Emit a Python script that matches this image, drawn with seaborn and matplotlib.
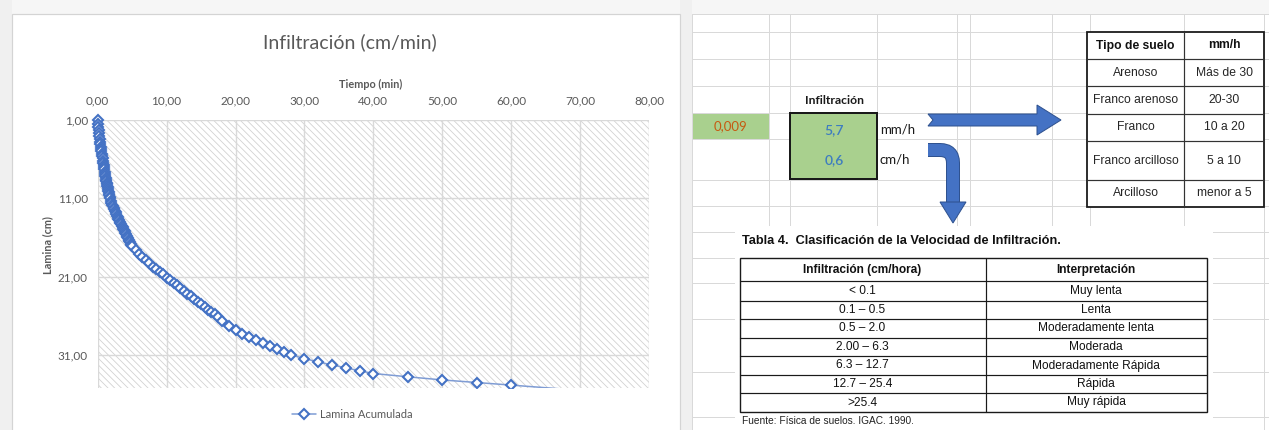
import matplotlib
matplotlib.use("Agg")
import matplotlib.pyplot as plt
import matplotlib.patheffects as pe
from matplotlib import font_manager as fm
from matplotlib.patches import Rectangle, Polygon
from matplotlib.lines import Line2D
from matplotlib.path import Path
from matplotlib.patches import PathPatch
from matplotlib.ticker import FixedLocator, FuncFormatter
from matplotlib.transforms import Bbox, TransformedBbox
import pandas as pd
import seaborn as sns

# ---------------- data ----------------
# cumulative infiltration test: elapsed time (min) and accumulated depth (cm)
tiempo_min = [
    0.00, 0.05, 0.10, 0.15, 0.20, 0.25, 0.30, 0.35, 0.40, 0.45,
    0.50, 0.55, 0.60, 0.65, 0.70, 0.75, 0.80, 0.85, 0.90, 0.95,
    1.00, 1.05, 1.10, 1.15, 1.20, 1.25, 1.30, 1.35, 1.40, 1.45,
    1.50, 1.55, 1.60, 1.65, 1.70, 1.75, 1.80, 1.9,
    2.0, 2.1, 2.2, 2.3, 2.4, 2.5, 2.6, 2.7, 2.8, 2.9,
    3.0, 3.1, 3.2, 3.3, 3.4, 3.5, 3.6, 3.7, 3.8, 3.9,
    4.0, 4.1, 4.2, 4.3, 4.4, 4.5, 4.6, 4.7, 4.8, 4.9,
    5.0, 5.5, 6.0, 6.5, 7.0, 7.5, 8.0, 8.5, 9.0, 9.5,
    10.0, 10.5, 11.0, 11.5, 12.0, 12.5, 13.0, 13.5, 14.0, 14.5,
    15.0, 15.5, 16.0, 16.5, 17.0, 17.5, 18.0, 19.0, 20.0, 21.0,
    22.0, 23.0, 24.0, 25.0, 26.0, 27.0, 28.0, 30.0, 32.0, 34.0,
    36.0, 38.0, 40.0, 45.0, 50.0, 55.0, 60.0, 70.0,
]
lamina_cm = [
    1.0, 1.5, 1.9, 2.3, 2.7, 3.05, 3.4, 3.75, 4.1, 4.4,
    4.7, 5.0, 5.3, 5.6, 5.9, 6.2, 6.5, 6.75, 7.0, 7.3,
    7.6, 7.85, 8.1, 8.35, 8.6, 8.8, 9.0, 9.2, 9.4, 9.6,
    9.8, 10.0, 10.2, 10.4, 10.6, 10.8, 11.0, 11.3,
    11.6, 11.8, 12.0, 12.2, 12.4, 12.6, 12.8, 13.0, 13.2, 13.4,
    13.6, 13.8, 14.0, 14.2, 14.3, 14.5, 14.7, 14.9, 15.0, 15.2,
    15.4, 15.6, 15.8, 15.9, 16.1, 16.3, 16.5, 16.6, 16.8, 16.9,
    17.1, 17.6, 18.1, 18.5, 18.9, 19.3, 19.7, 20.0, 20.4, 20.7,
    21.1, 21.4, 21.8, 22.1, 22.5, 22.8, 23.2, 23.5, 23.8, 24.2,
    24.5, 24.8, 25.2, 25.5, 25.8, 26.2, 26.6, 27.35, 27.8, 28.25,
    28.7, 29.1, 29.5, 29.9, 30.25, 30.6, 30.95, 31.45, 31.87, 32.25,
    32.63, 33.0, 33.35, 33.77, 34.17, 34.5, 34.83, 35.5,
]
serie_nombre = "Lamina Acumulada"

x_ticks = [0, 10, 20, 30, 40, 50, 60, 70, 80]
y_ticks = [1, 11, 21, 31]
y_fondo = 35.2  # lower edge of the plot area

# worksheet values
relacion = "0,009"
infil_mm_h = 5.7
infil_cm_h = 0.6

suelo_tipo = ["Arenoso", "Franco arenoso", "Franco", "Franco arcilloso", "Arcilloso"]
suelo_mm_h = ["Más de 30", "20-30", "10 a 20", "5 a 10", "menor a 5"]

clase_rango = ["< 0.1", "0.1 – 0.5", "0.5 – 2.0", "2.00 – 6.3",
               "6.3 – 12.7", "12.7 – 25.4", ">25.4"]
clase_nombre = ["Muy lenta", "Lenta", "Moderadamente lenta", "Moderada",
                "Moderadamente Rápida", "Rápida", "Muy rápida"]

# ---------------- style ----------------
sns.set_theme(style="white")
plt.rcParams["font.family"] = ["Lato", "DejaVu Sans"]
plt.rcParams["hatch.linewidth"] = 0.6

_names = {f.name for f in fm.fontManager.ttflist}
NARROW = "Liberation Sans Narrow" if "Liberation Sans Narrow" in _names else "Liberation Sans"
GRAY_TXT = "#595959"
BLUE = "#4472C4"
GREEN = "#a9d08e"
TBL_FS = 8.7

W, H = 1269, 430
fig = plt.figure(figsize=(W / 100, H / 100), dpi=100, facecolor="white")

# pixel-space canvas for the worksheet and panel decorations
bg = fig.add_axes([0, 0, 1, 1], zorder=0)
bg.set_xlim(0, W)
bg.set_ylim(H, 0)
bg.axis("off")

px = 0.72  # points per pixel

# left panel frame
bg.add_patch(Rectangle((0, 0), W, 14, facecolor="#f6f6f6", edgecolor="none"))
bg.add_patch(Rectangle((0, 0), 12, H, facecolor="#f0f0f0", edgecolor="none"))
bg.add_patch(Rectangle((680, 0), 12, H, facecolor="#f0f0f0", edgecolor="none"))
bg.add_patch(Rectangle((12, 14), 668, H, facecolor="white", edgecolor="#d4d4d4",
                       linewidth=1.2 * px))

# worksheet grid
col_x = [692, 769, 790, 877, 957, 970, 1052, 1090, 1184, 1264]
row_y = [14, 32, 59, 86, 113, 139, 180, 206, 232, 258, 283, 319, 372, 417]
for cx in col_x:
    bg.add_line(Line2D([cx, cx], [14, H], color="#d9d9d9", lw=1.0 * px))
for ry in row_y:
    bg.add_line(Line2D([692, W], [ry, ry], color="#d9d9d9", lw=1.0 * px))

# green cells
bg.add_patch(Rectangle((692, 113), 77, 26, facecolor=GREEN, edgecolor="none"))
bg.text(730, 126.5, relacion, ha="center", va="center", color="#c55a11", fontsize=9.5)
bg.add_patch(Rectangle((790, 113), 87, 66, facecolor=GREEN, edgecolor="#1a1a1a",
                       linewidth=2.0 * px, zorder=3))
bg.text(834, 101, "Infiltración", ha="center", va="center", fontsize=8.7,
        fontweight="bold", color="#1a1a1a")
fmt_dec = lambda v: f"{v:.1f}".replace(".", ",")
bg.text(834, 130, fmt_dec(infil_mm_h), ha="center", va="center", fontsize=10,
        fontweight="semibold", color="#3d7cc0", zorder=4)
bg.text(834, 160, fmt_dec(infil_cm_h), ha="center", va="center", fontsize=10,
        fontweight="semibold", color="#3d7cc0", zorder=4)
bg.text(880, 130, "mm/h", ha="left", va="center", fontsize=9.5, color="#1a1a1a")
bg.text(880, 160, "cm/h", ha="left", va="center", fontsize=9.5, color="#1a1a1a")

# arrows
AR_EDGE = "#2f528f"
AR_FILL = "#4472C4"
shaft_w = 12
ay = 120
bg.add_patch(Polygon([[928, ay - shaft_w / 2], [1037, ay - shaft_w / 2],
                      [1037, ay - 15], [1061, ay], [1037, ay + 15],
                      [1037, ay + shaft_w / 2], [928, ay + shaft_w / 2],
                      [933, ay]],
                     closed=True, facecolor=AR_FILL, edgecolor=AR_EDGE,
                     linewidth=1.0 * px, zorder=3))
bend = Path([(928, 150), (940, 150), (953, 150), (953, 163), (953, 202)],
            [Path.MOVETO, Path.LINETO, Path.CURVE3, Path.CURVE3, Path.LINETO])
bg.add_patch(PathPatch(bend, facecolor="none", edgecolor=AR_FILL,
                       linewidth=shaft_w * px, capstyle="butt", zorder=3,
                       path_effects=[pe.Stroke(linewidth=(shaft_w + 2) * px,
                                               foreground=AR_EDGE),
                                     pe.Normal()]))
bg.add_patch(Polygon([[940, 202], [966, 202], [953, 223]], closed=True,
                     facecolor=AR_FILL, edgecolor=AR_EDGE, linewidth=1.0 * px,
                     zorder=3))

# soil type table (top right)
t_cols = [1087, 1184, 1264]
t_rows = [32, 59, 86, 114, 141, 180, 207]
bg.add_patch(Rectangle((t_cols[0], t_rows[0]), t_cols[-1] - t_cols[0],
                       t_rows[-1] - t_rows[0], facecolor="white",
                       edgecolor="#1a1a1a", linewidth=1.8 * px, zorder=3))
for ry in t_rows[1:-1]:
    bg.add_line(Line2D([t_cols[0], t_cols[-1]], [ry, ry], color="#333333",
                       lw=1.2 * px, zorder=4))
bg.add_line(Line2D([t_cols[1], t_cols[1]], [t_rows[0], t_rows[-1]],
                   color="#333333", lw=1.2 * px, zorder=4))
xc1 = (t_cols[0] + t_cols[1]) / 2
xc2 = (t_cols[1] + t_cols[2]) / 2
bg.text(xc1, (t_rows[0] + t_rows[1]) / 2, "Tipo de suelo", ha="center",
        va="center", fontsize=TBL_FS, fontweight="bold", family=NARROW,
        color="#111111", zorder=5)
bg.text(xc2, (t_rows[0] + t_rows[1]) / 2, "mm/h", ha="center", va="center",
        fontsize=TBL_FS, fontweight="bold", family=NARROW, color="#111111", zorder=5)
for i, (a, b) in enumerate(zip(suelo_tipo, suelo_mm_h)):
    yc = (t_rows[i + 1] + t_rows[i + 2]) / 2
    bg.text(xc1, yc, a, ha="center", va="center", fontsize=TBL_FS, family=NARROW,
            color="#262626", zorder=5)
    bg.text(xc2, yc, b, ha="center", va="center", fontsize=TBL_FS, family=NARROW,
            color="#262626", zorder=5)

# classification table (bottom right)
bg.add_patch(Rectangle((735, 226), 478, H - 226, facecolor="white",
                       edgecolor="none", zorder=2))
bg.text(742, 241.5, "Tabla 4.  Clasificación de la Velocidad de Infiltración.",
        ha="left", va="center", fontsize=9.2, fontweight="bold", family=NARROW,
        color="#111111", zorder=5)
c_cols = [739.5, 985.5, 1207]
c_rows = [258, 281, 301, 319, 337.5, 356, 375, 393, 412]
bg.add_patch(Rectangle((c_cols[0], c_rows[0]), c_cols[-1] - c_cols[0],
                       c_rows[-1] - c_rows[0], facecolor="white",
                       edgecolor="#1a1a1a", linewidth=1.4 * px, zorder=3))
for ry in c_rows[1:-1]:
    bg.add_line(Line2D([c_cols[0], c_cols[-1]], [ry, ry], color="#1a1a1a",
                       lw=1.2 * px, zorder=4))
bg.add_line(Line2D([c_cols[1], c_cols[1]], [c_rows[0], c_rows[-1]],
                   color="#1a1a1a", lw=1.2 * px, zorder=4))
cc1 = (c_cols[0] + c_cols[1]) / 2
cc2 = (c_cols[1] + c_cols[2]) / 2
bg.text(cc1, (c_rows[0] + c_rows[1]) / 2, "Infiltración (cm/hora)", ha="center",
        va="center", fontsize=8.6, fontweight="bold", family=NARROW,
        color="#111111", zorder=5)
bg.text(cc2, (c_rows[0] + c_rows[1]) / 2, "Interpretación", ha="center",
        va="center", fontsize=8.6, fontweight="bold", family=NARROW,
        color="#111111", zorder=5)
for i, (a, b) in enumerate(zip(clase_rango, clase_nombre)):
    yc = (c_rows[i + 1] + c_rows[i + 2]) / 2
    bg.text(cc1, yc, a, ha="center", va="center", fontsize=8.6, family=NARROW,
            color="#111111", zorder=5)
    bg.text(cc2, yc, b, ha="center", va="center", fontsize=8.6, family=NARROW,
            color="#111111", zorder=5)
bg.text(742, 421.5, "Fuente: Física de suelos. IGAC. 1990.", ha="left",
        va="center", fontsize=7.3, family=NARROW, color="#222222", zorder=5)

# ---------------- infiltration chart ----------------
bg.text(350, 42, "Infiltración (cm/min)", ha="center", va="center",
        fontsize=14, color=GRAY_TXT)

L, R, T, B = 97.7, 649, 120, 388
ax = fig.add_axes([L / W, (H - B) / H, (R - L) / W, (B - T) / H], zorder=2)
ax.set_facecolor("white")
ax.add_patch(Rectangle((0, 0), 1, 1, transform=ax.transAxes, fill=False,
                       hatch="\\\\\\\\\\", edgecolor="#d2d2d2", linewidth=0,
                       zorder=0))

df = pd.DataFrame({"Tiempo (min)": tiempo_min, "Lamina (cm)": lamina_cm})
# markers only for readings that fall inside the plot area
visibles = [i for i, v in enumerate(lamina_cm) if v <= y_fondo]
sns.lineplot(data=df, x="Tiempo (min)", y="Lamina (cm)", ax=ax,
             color="#7f9cd4", linewidth=1.1, marker="D", markersize=5.5,
             markerfacecolor="white", markeredgecolor=BLUE,
             markeredgewidth=1.5, markevery=visibles, label=serie_nombre,
             sort=False, estimator=None)

ax.set_xlim(0, 80)
ax.set_ylim(y_fondo, 1)

# let the first markers spill over the top/left edges, keep the bottom cut
serie = ax.lines[0]
serie.set_clip_box(TransformedBbox(Bbox([[-0.03, 0.0], [1.0, 1.04]]),
                                   ax.transAxes))

ax.xaxis.set_major_locator(FixedLocator(x_ticks))
ax.yaxis.set_major_locator(FixedLocator(y_ticks))
comma = FuncFormatter(lambda v, _: f"{v:.2f}".replace(".", ","))
ax.xaxis.set_major_formatter(comma)
ax.yaxis.set_major_formatter(comma)
ax.xaxis.tick_top()
ax.xaxis.set_label_position("top")
ax.tick_params(axis="both", length=0, labelsize=8.5, labelcolor=GRAY_TXT)
ax.tick_params(axis="x", pad=10)
ax.tick_params(axis="y", pad=7)
ax.set_axisbelow(True)
ax.grid(True, color="#d9d9d9", linewidth=1.0)
for s in ax.spines.values():
    s.set_visible(False)

ax.set_xlabel("Tiempo (min)", fontsize=7.8, fontweight="bold", color=GRAY_TXT)
ax.set_ylabel("Lamina (cm)", fontsize=7.8, fontweight="bold", color=GRAY_TXT)
ax.xaxis.set_label_coords((371 - L) / (R - L), (B - 84) / (B - T))
ax.xaxis.label.set_va("center")
ax.yaxis.set_label_coords((48 - L) / (R - L), (B - 245) / (B - T))
ax.yaxis.label.set_va("center")

leg = ax.legend(loc="center", bbox_to_anchor=(352 / W, 1 - 414 / H),
                bbox_transform=fig.transFigure, frameon=False, fontsize=8,
                handlelength=2.2, handletextpad=0.3)
for t in leg.get_texts():
    t.set_color(GRAY_TXT)

fig.savefig("out.png", dpi=100, facecolor=fig.get_facecolor())
